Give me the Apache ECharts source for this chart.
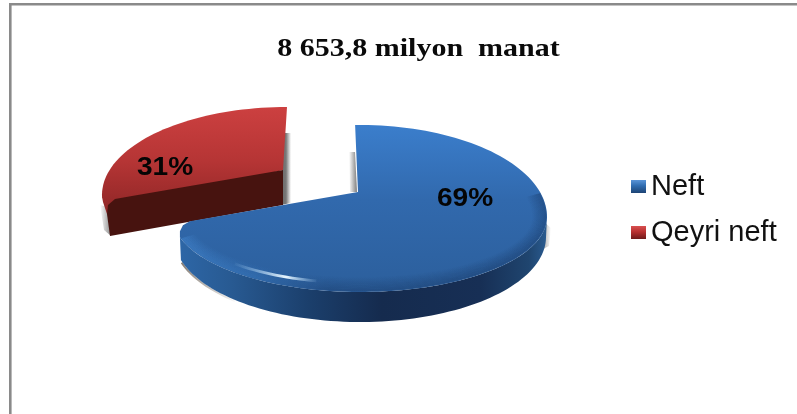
<!DOCTYPE html>
<html><head><meta charset="utf-8">
<style>html,body{margin:0;padding:0;background:#fff}#c{width:797px;height:414px;filter:blur(0.5px)}</style>
<script src="https://cdn.jsdelivr.net/npm/echarts@6/dist/echarts.min.js"></script>
</head><body><div id="c"></div>
<script>
const titleText = '8 653,8 milyon  manat';
const categories = ['Neft', 'Qeyri neft'];
const shares = [69, 31];

const G = echarts.graphic;
const lin = (x0, y0, x1, y1, stops) => new G.LinearGradient(x0, y0, x1, y1, stops.map((c, i) => (
  { offset: Array.isArray(c) ? c[0] : i / (stops.length - 1), color: Array.isArray(c) ? c[1] : c })));
// Ellipse with separate radii above and below its centre (perspective look)
const pt = (e, t) => {
  const r = t * Math.PI / 180, c = Math.cos(r);
  const ry = c >= 0 ? e.ry : (e.ryLow === undefined ? e.ry : e.ryLow);
  return [e.cx + e.rx * Math.sin(r), e.cy - ry * c];
};
const arc = (e, a, b) => {
  const n = Math.max(2, Math.ceil(Math.abs(b - a) / 2)), out = [];
  for (let i = 0; i <= n; i++) out.push(pt(e, a + (b - a) * i / n));
  return out;
};
const poly = (points, fill) => ({ type: 'polygon', shape: { points }, style: { fill } });
const line = (points, stroke, lineWidth) => ({ type: 'polyline', shape: { points }, style: { fill: 'none', stroke, lineWidth } });
const label = (text, x, y) => ({
  type: 'text', x, y, scaleX: 1.08,
  style: { text, fill: '#050505', font: 'bold 26px "Liberation Sans"', align: 'center', verticalAlign: 'middle' }
});

function renderNeft(p, api) {
  const v = api.value(0);
  const e = { cx: 360, cy: 217, rx: 187, ry: 92, ryLow: 75 };
  const b = { cx: 360, cy: 237, rx: 186, ry: 85 };
  const start = -1.5, end = start + v * 3.6 * 1.03;
  const apex = [358, 192];
  const top = arc(e, start, end);
  const q = top[top.length - 1];
  const corner = [[q[0], q[1] - 6], [q[0] + 3, q[1] - 12], [q[0] + 10, q[1] - 16]];
  const wall = arc(e, 90, end).concat([[q[0] + 1, q[1] + 23]], arc(b, end, 90));
  const children = [
    poly([[349, 152], [355, 152], [357, 192], [350, 192]], lin(0, 0, 1, 0, ['rgba(110,110,110,0)', 'rgba(110,110,110,0.9)'])),
    poly([[544, 222], [551, 228], [549, 246], [541, 250]], lin(0, 0, 1, 0, [[0, 'rgba(120,120,120,0.8)'], [1, 'rgba(120,120,120,0)']])),
    line(arc({ cx: b.cx, cy: b.cy + 0.8, rx: b.rx + 0.5, ry: b.ry }, 222, 253), lin(0, 0, 1, 0, ['rgba(110,100,90,0.85)', 'rgba(110,100,90,0)']), 2),
    poly(wall, lin(0, 0, 1, 0, [[0, '#2d66a6'], [0.14, '#285a92'], [0.35, '#1b3f6c'], [0.55, '#152b4e'], [0.82, '#172f55'], [0.95, '#1f456f'], [1, '#2a5b90']])),
    poly(top.concat(corner, [apex]), lin(0, 0, 0, 1, [[0, '#3b7ecc'], [0.45, '#3169ad'], [1, '#2c5f9c']]))
  ];
  // soft bevel along the visible edge of the top face
  for (let k = 0; k < 13; k++) {
    const a = (0.34 * (1 - k / 13)).toFixed(3);
    const inset = { cx: e.cx, cy: e.cy, rx: e.rx - 1 - k * 1.1, ry: e.ry - 1 - k, ryLow: e.ryLow - 1 - k * 1.1 };
    children.push(line(arc(inset, 75, end - 1), lin(0, 0, 1, 0, [
      [0, 'rgba(70,140,215,' + a + ')'], [0.2, 'rgba(55,120,190,' + a + ')'],
      [0.4, 'rgba(24,58,105,' + a + ')'], [1, 'rgba(22,55,100,' + a + ')']]), 1.6));
  }
  children.push(
    line(arc({ cx: 360, cy: 215, rx: 180, ry: 68 }, 194, 224), lin(0, 0, 1, 0, [
      [0, 'rgba(170,215,250,0)'], [0.62, 'rgba(232,246,255,1)'], [1, 'rgba(170,215,250,0)']]), 2.8),
    label(Math.round(v) + '%', 465, 199)
  );
  return { type: 'group', children };
}

function renderQeyri(p, api) {
  const v = api.value(0);
  const e = { cx: 287, cy: 195, rx: 185, ry: 88 };
  const end = 360, start = end - v * 3.6 * 0.82;
  const apexTop = [283, 170], apexBot = [283, 205], cornerBot = [110, 236];
  const children = [
    poly([[284, 133], [291, 133], [291, 203], [281, 205]], lin(0, 0, 1, 0, [[0, 'rgba(105,105,105,1)'], [0.5, 'rgba(105,105,105,0.9)'], [1, 'rgba(105,105,105,0)']])),
    poly([[100, 205], [108, 207], [111, 236], [104, 230]], lin(0, 0, 1, 0, ['rgba(120,120,120,0)', 'rgba(120,120,120,0.85)'])),
    poly(arc(e, end, start).concat([[103, 202], [107, 214], apexTop]),
      lin(0, 0, 0, 1, [[0, '#cc4040'], [0.5, '#b63535'], [1, '#8e2626']])),
    poly([apexTop, apexBot, cornerBot, [107, 214], [108, 205], [115, 199], [132, 196]], '#47130f'),
    label(Math.round(v) + '%', 165, 168)
  ];
  return { type: 'group', children };
}

const legendIcon = (a, b, c) => ({ color: lin(0, 0, 0, 1, [[0, a], [0.45, b], [1, c]]) });

const option = {
  animation: false,
  backgroundColor: '#fff',
  legend: {
    orient: 'vertical', left: 631, top: 172, padding: 0, itemWidth: 15, itemHeight: 13, itemGap: 17, selectedMode: false,
    icon: 'rect',
    textStyle: { fontFamily: 'Liberation Sans', fontSize: 29, color: '#111' },
    data: [
      { name: categories[0], itemStyle: legendIcon('#5a95d8', '#2f6cb0', '#1d4474') },
      { name: categories[1], itemStyle: legendIcon('#d85050', '#b83030', '#6e1a1a') }
    ]
  },
  graphic: [
    { type: 'rect', silent: true, shape: { x: 9, y: 3, width: 788, height: 2.6 }, style: { fill: '#8a8a8a' } },
    { type: 'rect', silent: true, shape: { x: 9, y: 3, width: 2.6, height: 411 }, style: { fill: '#8a8a8a' } },
    { type: 'text', silent: true, x: 418.5, y: 50, scaleX: 1.2,
      style: { text: titleText, font: 'bold 25px "Liberation Serif"', fill: '#0a0a0a', align: 'center', verticalAlign: 'middle' } }
  ],
  series: [
    { type: 'custom', name: categories[1], coordinateSystem: 'none', silent: true, renderItem: renderQeyri, data: [[shares[1]]], itemStyle: { color: '#b83030' }, z: 2 },
    { type: 'custom', name: categories[0], coordinateSystem: 'none', silent: true, renderItem: renderNeft, data: [[shares[0]]], itemStyle: { color: '#2f6cb0' }, z: 3 }
  ]
};
echarts.init(document.getElementById('c'), null, { renderer: 'canvas' }).setOption(option);
</script></body></html>
